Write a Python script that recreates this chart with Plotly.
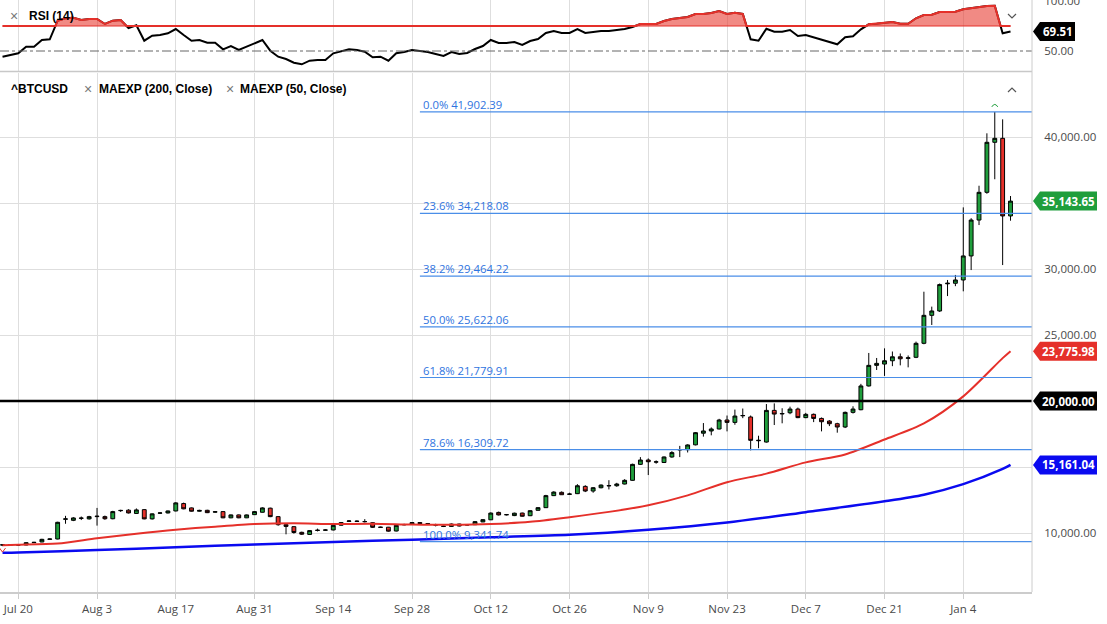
import numpy as np
import pandas as pd
import plotly.graph_objects as go

# ---------------- data ----------------
start_date = "2020-07-16"
end_date = "2021-01-12"

opens = [9110, 9090, 9100, 9090, 9265, 9320, 9520, 9545, 11040, 10960,
         11110, 11070, 11240, 11240, 11080, 11690, 11730, 11480, 11770, 11070,
         11500, 11520, 11670, 12230, 11900, 11650, 11720, 11580, 11620, 11150,
         11370, 11150, 11390, 11570, 11880, 11240, 10630, 10480, 10050, 9890,
         10190, 10210, 10230, 10590, 10880, 10900, 10870, 10780, 10420, 10440,
         10150, 10620, 10660, 10790, 10710, 10610, 10520, 10500, 10680, 10600,
         10630, 10840, 11000, 11560, 11380, 11320, 11510, 11310, 11720, 11920,
         12830, 13080, 12930, 12980, 13530, 13180, 13430, 13570, 13580, 13710,
         13990, 15200, 15530, 15370, 15340, 15760, 16290, 16310, 16680, 17560,
         17730, 17880, 18560, 18380, 18880, 18790, 16990, 16890, 19290, 19020,
         19110, 19390, 18740, 18990, 18680, 18480, 18280, 18030, 19140, 19340,
         21140, 22700, 22800, 23050, 23350, 23230, 23310, 24370, 26490, 26820,
         28880, 28920, 29170, 30990, 33710, 35810, 39600, 39900, 34020]
highs = [9150, 9140, 9130, 9300, 9330, 9560, 9580, 10850, 11300, 11200,
         11250, 11300, 11900, 11320, 11680, 11760, 11800, 11860, 11800, 11480,
         11560, 11700, 12330, 12300, 11930, 11760, 11760, 11650, 11650, 11400,
         11400, 11400, 11650, 11950, 11920, 11270, 10660, 10500, 10100, 10200,
         10330, 10280, 10620, 10820, 10980, 10960, 11050, 10820, 10480, 10460,
         10600, 10700, 10830, 10830, 10760, 10700, 10560, 10720, 10700, 10660,
         10900, 11050, 11560, 11620, 11440, 11540, 11540, 11720, 11950, 12890,
         13160, 13150, 13050, 13700, 13620, 13480, 13680, 14000, 13800, 14080,
         15250, 15750, 15650, 15500, 15800, 16200, 16600, 16720, 17650, 18330,
         18000, 18650, 18900, 19350, 19430, 18900, 17370, 19770, 19820, 19450,
         19570, 19500, 19100, 19050, 18750, 18550, 18350, 19200, 19600, 21300,
         23640, 23260, 23990, 23750, 23600, 23450, 24500, 28280, 27150, 28900,
         29170, 29550, 34670, 33850, 36310, 40280, 41902.39, 41340, 35530]
lows = [9010, 9060, 9050, 9070, 9240, 9300, 9500, 9520, 10700, 10900,
        10980, 11020, 10560, 11000, 11040, 11600, 11480, 11440, 11040, 11020,
        11440, 11480, 11640, 11800, 11620, 11620, 11510, 11540, 11120, 11120,
        11120, 11130, 11370, 11550, 11200, 10550, 9900, 9950, 9850, 9850,
        10120, 10170, 10200, 10560, 10840, 10840, 10800, 10380, 10380, 10100,
        10120, 10580, 10630, 10690, 10650, 10500, 10450, 10470, 10500, 10560,
        10600, 10820, 10980, 11330, 11330, 11280, 11240, 11280, 11690, 11900,
        12800, 12880, 12880, 12950, 13100, 13050, 13380, 13300, 13500, 13680,
        13960, 15150, 14390, 15250, 15300, 15700, 15750, 16100, 16640, 17300,
        17400, 17850, 17700, 18200, 18700, 16260, 16420, 16850, 18180, 18310,
        19000, 18700, 18700, 18400, 17700, 18100, 17600, 17950, 19050, 19300,
        21100, 22350, 21900, 22640, 22700, 22550, 23250, 24300, 25760, 26750,
        27950, 28700, 28310, 29920, 33330, 35700, 36800, 30300, 33660]
closes = [9090, 9100, 9090, 9265, 9290, 9520, 9545, 10810, 11070, 11140,
          11130, 11240, 11270, 11080, 11620, 11710, 11520, 11750, 11070, 11450,
          11520, 11670, 12280, 11830, 11650, 11710, 11540, 11610, 11150, 11370,
          11150, 11370, 11620, 11900, 11240, 10630, 10500, 10040, 9910, 10180,
          10210, 10230, 10580, 10790, 10910, 10880, 10860, 10430, 10440, 10140,
          10580, 10640, 10790, 10720, 10700, 10600, 10500, 10680, 10530, 10630,
          10860, 11010, 11510, 11370, 11390, 11500, 11270, 11690, 11920, 12830,
          13100, 12900, 12950, 13580, 13180, 13430, 13630, 13590, 13710, 13990,
          15200, 15530, 15400, 15390, 15760, 16090, 16320, 16670, 17600, 17730,
          17880, 18560, 18380, 18860, 18900, 17020, 17020, 19290, 19010, 19050,
          19390, 18740, 18990, 18680, 18430, 18280, 18030, 19140, 19390, 21140,
          22700, 22850, 23050, 23350, 23200, 23270, 24370, 26490, 26820, 28820,
          28920, 29170, 30990, 33710, 35810, 39600, 39900, 34020, 35143.65]

rsi_values = [44.3, 46.0, 47.7, 54.3, 54.3, 61.0, 61.7, 80.3, 82.7, 83.3,
              81.0, 82.0, 82.0, 77.0, 80.3, 81.0, 73.0, 75.7, 60.3, 65.3,
              66.0, 67.7, 72.0, 66.0, 60.3, 61.0, 58.3, 58.3, 51.7, 55.0,
              51.0, 54.3, 57.7, 61.0, 50.3, 44.3, 42.0, 38.3, 36.7, 40.3,
              41.0, 41.0, 47.7, 50.0, 51.7, 51.0, 49.3, 43.7, 44.3, 40.3,
              47.7, 49.0, 51.0, 50.0, 49.0, 47.0, 45.0, 49.0, 47.0, 48.0,
              52.0, 55.0, 61.0, 58.0, 58.0, 59.0, 56.0, 60.0, 62.0, 68.0,
              70.0, 68.0, 68.0, 72.0, 68.0, 69.0, 70.0, 70.0, 71.0, 72.0,
              74.0, 77.0, 77.0, 77.0, 80.0, 82.0, 83.0, 84.0, 87.0, 87.0,
              88.0, 90.0, 87.0, 88.3, 87.0, 61.7, 60.3, 72.3, 69.3, 69.3,
              71.0, 65.0, 66.0, 63.7, 61.0, 59.3, 56.7, 63.7, 64.7, 71.7,
              76.7, 77.3, 78.0, 79.0, 77.3, 77.3, 82.7, 86.0, 86.3, 89.0,
              89.0, 89.3, 91.7, 93.0, 94.0, 95.0, 95.3, 67.7, 69.51]

ema50_dates = ["2020-07-16", "2020-07-20", "2020-07-27", "2020-08-03", "2020-08-10",
               "2020-08-17", "2020-08-24", "2020-08-31", "2020-09-07", "2020-09-14",
               "2020-09-21", "2020-09-28", "2020-10-05", "2020-10-12", "2020-10-19",
               "2020-10-26", "2020-11-02", "2020-11-09", "2020-11-16", "2020-11-23",
               "2020-11-30", "2020-12-07", "2020-12-14", "2020-12-21", "2020-12-28",
               "2021-01-04", "2021-01-11", "2021-01-12"]
ema50_values = [9080, 9110, 9200, 9600, 9950, 10250, 10480, 10680, 10740, 10680,
                10700, 10640, 10620, 10680, 10850, 11200, 11600, 12100, 12850, 13850,
                14500, 15350, 15950, 17080, 18300, 20350, 23250, 23775.98]

ema200_dates = ["2020-07-16", "2020-07-20", "2020-08-03", "2020-08-17", "2020-08-31",
                "2020-09-14", "2020-09-28", "2020-10-12", "2020-10-26", "2020-11-09",
                "2020-11-23", "2020-12-07", "2020-12-21", "2020-12-28", "2021-01-04",
                "2021-01-11", "2021-01-12"]
ema200_values = [8510, 8530, 8710, 8920, 9130, 9320, 9490, 9680, 9870, 10250,
                 10800, 11580, 12400, 12900, 13700, 14850, 15161.04]

fib_pcts = ["0.0%", "23.6%", "38.2%", "50.0%", "61.8%", "78.6%", "100.0%"]
fib_levels = [41902.39, 34218.08, 29464.22, 25622.06, 21779.91, 16309.72, 9341.74]
fib_start_date = "2020-09-29"

tick_dates = ["2020-07-20", "2020-08-03", "2020-08-17", "2020-08-31", "2020-09-14",
              "2020-09-28", "2020-10-12", "2020-10-26", "2020-11-09", "2020-11-23",
              "2020-12-07", "2020-12-21", "2021-01-04"]
tick_labels = ["Jul 20", "Aug 3", "Aug 17", "Aug 31", "Sep 14", "Sep 28", "Oct 12",
               "Oct 26", "Nov 9", "Nov 23", "Dec 7", "Dec 21", "Jan 4"]
price_ticks = [10000, 15000, 20000, 25000, 30000, 35000, 40000]
# labels covered by the value badges in the original are left blank
price_tick_labels = ["10,000.00", "", "", "25,000.00", "30,000.00", "", "40,000.00"]
rsi_ticks = [50, 100]
rsi_tick_labels = ["50.00", "100.00"]
rsi_overbought = 75
rsi_mid = 50
level_line = 20000
high_marker_date = "2021-01-08"

# ---------------- geometry ----------------
W, H = 1107, 624
MR, MB = 75, 32
PW, PH = W - MR, H - MB

dates = pd.bdate_range(start_date, end_date)
n = len(dates)
xi = np.arange(n)
def idx(d):
    return int(dates.get_loc(pd.Timestamp(d)))

def py(px):  # pixel from top -> paper y
    return (PH - px) / PH

def pxx(px):
    return px / PW

GREEN = "#1f9e3c"
RED = "#e5302a"
BLUE = "#0a0af0"
FIB = "#2f74e0"
FIBLINE = "#4a8ee8"
GRID = "#dedede"
TXT = "#4a4a4a"

fig = go.Figure()

fig.add_trace(go.Candlestick(
    x=xi, open=opens, high=highs, low=lows, close=closes,
    increasing=dict(line=dict(color="black", width=1), fillcolor=GREEN),
    decreasing=dict(line=dict(color="black", width=1), fillcolor=RED),
    whiskerwidth=0, xaxis="x", yaxis="y", showlegend=False, hoverinfo="skip"))

fig.add_trace(go.Scatter(
    x=[idx(d) for d in ema200_dates], y=ema200_values, mode="lines",
    line=dict(color=BLUE, width=2.5, shape="spline", smoothing=0.8),
    xaxis="x", yaxis="y", showlegend=False, hoverinfo="skip"))
fig.add_trace(go.Scatter(
    x=[idx(d) for d in ema50_dates], y=ema50_values, mode="lines",
    line=dict(color=RED, width=2, shape="spline", smoothing=0.8),
    xaxis="x", yaxis="y", showlegend=False, hoverinfo="skip"))

# RSI with fill above overbought level
fx, ftop = [], []
for i in range(n):
    if i > 0:
        a, b = rsi_values[i - 1], rsi_values[i]
        if (a - rsi_overbought) * (b - rsi_overbought) < 0:
            t = (rsi_overbought - a) / (b - a)
            fx.append(i - 1 + t)
            ftop.append(rsi_overbought)
    fx.append(i)
    ftop.append(max(rsi_values[i], rsi_overbought))

fig.add_trace(go.Scatter(x=xi, y=rsi_values, mode="lines",
                         line=dict(color="black", width=2),
                         xaxis="x2", yaxis="y2", showlegend=False, hoverinfo="skip"))
fig.add_trace(go.Scatter(x=fx, y=[rsi_overbought] * len(fx), mode="lines",
                         line=dict(color=RED, width=1),
                         xaxis="x2", yaxis="y2", showlegend=False, hoverinfo="skip"))
fig.add_trace(go.Scatter(x=fx, y=ftop, mode="lines", fill="tonexty",
                         fillcolor="rgba(232,60,50,0.6)",
                         line=dict(color=RED, width=2),
                         xaxis="x2", yaxis="y2", showlegend=False, hoverinfo="skip"))

xrange = [-0.32, -0.32 + PW / 7.875]
tickvals = [idx(d) for d in tick_dates]

shapes = []
annotations = []

# fib lines + labels
fx0 = idx(fib_start_date)
for p, lv in zip(fib_pcts, fib_levels):
    shapes.append(dict(type="line", xref="x", yref="y", x0=fx0, x1=xrange[1], y0=lv, y1=lv,
                       line=dict(color=FIBLINE, width=1.2)))
    annotations.append(dict(xref="x", yref="y", x=fx0, y=lv, xanchor="left", yanchor="bottom",
                            text=f"{p} {lv:,.2f}", showarrow=False, xshift=1, yshift=-2,
                            font=dict(family="Open Sans", size=11.3, color=FIB)))

# 20,000 level
shapes.append(dict(type="line", xref="paper", yref="y", x0=0, x1=1, y0=level_line, y1=level_line,
                   line=dict(color="black", width=2.5)))
# RSI levels
shapes.append(dict(type="line", xref="paper", yref="y2", x0=0, x1=1, y0=rsi_mid, y1=rsi_mid,
                   line=dict(color="#666666", width=1, dash="dashdot")))
# panel separator, right border
shapes.append(dict(type="line", xref="paper", yref="paper", x0=0, x1=1, y0=py(71.5), y1=py(71.5),
                   line=dict(color="#c8c8c8", width=1.5)))
shapes.append(dict(type="line", xref="paper", yref="paper", x0=1, x1=1, y0=0, y1=1,
                   line=dict(color="#cccccc", width=1)))

# badges
def badge(yref, val, text, color, width):
    shapes.append(dict(type="path", xref="paper", yref=yref, xsizemode="pixel", ysizemode="pixel",
                       xanchor=1, yanchor=val,
                       path=f"M1,0 L8,9.5 L{width},9.5 L{width},-9.5 L8,-9.5 Z",
                       fillcolor=color, line=dict(color=color, width=0)))
    annotations.append(dict(xref="paper", yref=yref, x=1, y=val, xanchor="center", yanchor="middle",
                            xshift=(8 + width) / 2, text=f"<b>{text}</b>", showarrow=False,
                            font=dict(family="Open Sans", size=11.5, color="white")))

badge("y2", rsi_values[-1], f"{rsi_values[-1]:.2f}", "black", 43)
badge("y", closes[-1], f"{closes[-1]:,.2f}", GREEN, 65)
badge("y", ema50_values[-1], f"{ema50_values[-1]:,.2f}", RED, 65)
badge("y", level_line, f"{level_line:,.2f}", "black", 65)
badge("y", ema200_values[-1], f"{ema200_values[-1]:,.2f}", BLUE, 65)

# chevrons
shapes.append(dict(type="path", xref="paper", yref="paper", xsizemode="pixel", ysizemode="pixel",
                   xanchor=pxx(1012), yanchor=py(16), path="M-4,2 L0,-2 L4,2",
                   line=dict(color="#555555", width=1.2)))
shapes.append(dict(type="path", xref="paper", yref="paper", xsizemode="pixel", ysizemode="pixel",
                   xanchor=pxx(1012), yanchor=py(90), path="M-4,-2 L0,2 L4,-2",
                   line=dict(color="#555555", width=1.2)))
# high / low markers
shapes.append(dict(type="path", xref="x", yref="y", xsizemode="pixel", ysizemode="pixel",
                   xanchor=idx(high_marker_date), yanchor=max(highs),
                   path="M-3,5 Q0,10 3,5", line=dict(color=GREEN, width=1)))
lo_i = int(np.argmin(lows))
shapes.append(dict(type="path", xref="x", yref="y", xsizemode="pixel", ysizemode="pixel",
                   xanchor=lo_i, yanchor=lows[lo_i],
                   path="M-3,-2 L0,-6 L3,-2", line=dict(color=RED, width=1)))

# header texts
def label(px, pyy, text, color="black", size=12):
    annotations.append(dict(xref="paper", yref="paper", x=pxx(px), y=py(pyy), xanchor="left",
                            yanchor="middle", text=text, showarrow=False,
                            font=dict(family="Liberation Sans, Arial", size=size, color=color)))

label(8, 16, "×", "#777777", 14)
label(27, 16, "<b>RSI (14)</b>")
label(9, 89, "<b>^BTCUSD</b>")
label(82, 89, "×", "#777777", 14)
label(97, 89, "<b>MAEXP (200, Close)</b>")
label(224, 89, "×", "#777777", 14)
label(238, 89, "<b>MAEXP (50, Close)</b>")

fig.update_layout(
    width=W, height=H, margin=dict(l=0, r=MR, t=0, b=MB, autoexpand=False),
    paper_bgcolor="white", plot_bgcolor="white",
    showlegend=False, boxgap=0.3,
    xaxis=dict(domain=[0, 1], anchor="y", range=xrange, tickvals=tickvals, ticktext=tick_labels,
               showgrid=True, gridcolor=GRID, gridwidth=1, zeroline=False, automargin=False,
               showline=True, linecolor="#cccccc", linewidth=1.5,
               ticks="outside", ticklen=5, tickcolor="#cccccc",
               tickfont=dict(family="Open Sans", size=11.5, color=TXT),
               rangeslider=dict(visible=False)),
    xaxis2=dict(domain=[0, 1], anchor="y2", matches="x", range=xrange, tickvals=tickvals,
                automargin=False,
                showticklabels=False, showgrid=True, gridcolor=GRID, zeroline=False),
    yaxis=dict(domain=[0, py(73)], anchor="x", side="right", range=[5530, 44850],
               tickvals=price_ticks, ticktext=price_tick_labels, showgrid=True, gridcolor=GRID,
               zeroline=False, ticks="outside", ticklen=9, tickcolor="rgba(0,0,0,0)",
               automargin=False,
               tickfont=dict(family="Open Sans", size=11.5, color=TXT)),
    yaxis2=dict(domain=[py(71.5), 1], anchor="x2", side="right", range=[29.5, 101],
                tickvals=rsi_ticks, ticktext=rsi_tick_labels, showgrid=False, zeroline=False,
                ticks="outside", ticklen=9, tickcolor="rgba(0,0,0,0)",
                ticklabeloverflow="allow", automargin=False,
                tickfont=dict(family="Open Sans", size=11.5, color=TXT)),
    shapes=shapes, annotations=annotations,
)

fig.write_html("out.html")
